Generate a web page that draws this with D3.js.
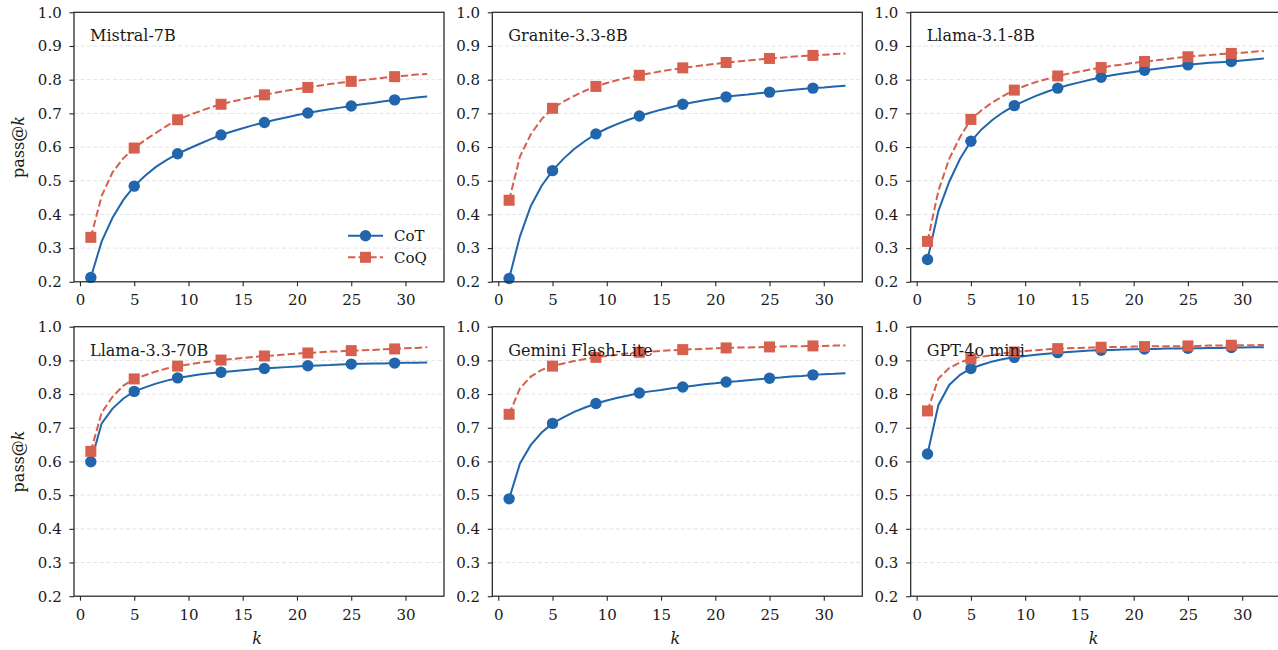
<!DOCTYPE html>
<html><head><meta charset="utf-8">
<script src="https://cdn.jsdelivr.net/npm/d3@7"></script>
<style>body{margin:0;background:#fff}svg{display:block}text{font-family:"DejaVu Serif",serif}</style>
</head><body><svg id="c" width="1278" height="650"></svg>
<script>
const ks = d3.range(1, 33);
const markerKs = [1, 5, 9, 13, 17, 21, 25, 29];
const models = ["Mistral-7B", "Granite-3.3-8B", "Llama-3.1-8B", "Llama-3.3-70B", "Gemini Flash-Lite", "GPT-4o mini"];
const seriesNames = ["CoT", "CoQ"];
const yTicks = [0.2, 0.3, 0.4, 0.5, 0.6, 0.7, 0.8, 0.9, 1.0];
const xTicks = [0, 5, 10, 15, 20, 25, 30];

const mistralCoT = [.213,.32,.39,.443,.484,.515,.541,.562,.580,.595,.609,.623,.636,.646,.656,.665,.673,.681,.688,.695,.701,.707,.712,.717,.722,.727,.731,.736,.740,.743,.747,.750];
const mistralCoQ = [.332,.455,.525,.567,.597,.621,.642,.663,.681,.694,.706,.717,.727,.735,.742,.749,.755,.761,.767,.772,.777,.782,.787,.791,.795,.799,.802,.806,.809,.812,.815,.817];
const graniteCoT = [.210,.335,.425,.485,.530,.565,.594,.618,.639,.655,.669,.681,.692,.702,.711,.719,.727,.733,.739,.744,.749,.753,.756,.760,.763,.766,.769,.772,.775,.777,.780,.782];
const graniteCoQ = [.442,.572,.638,.683,.715,.735,.752,.767,.780,.790,.799,.806,.813,.819,.825,.830,.835,.839,.843,.847,.851,.854,.857,.860,.863,.865,.868,.870,.872,.874,.876,.878];
const llama31CoT = [.266,.41,.497,.565,.617,.653,.681,.704,.723,.738,.752,.764,.775,.784,.792,.800,.807,.813,.818,.823,.828,.832,.836,.840,.844,.847,.850,.852,.854,.857,.860,.863];
const llama31CoQ = [.320,.470,.565,.630,.682,.710,.733,.752,.769,.782,.793,.802,.811,.818,.824,.830,.836,.841,.845,.850,.854,.857,.861,.865,.868,.871,.873,.876,.878,.880,.883,.885];
const llama33CoT = [.599,.713,.757,.787,.808,.820,.831,.840,.848,.853,.858,.862,.865,.868,.871,.874,.876,.878,.880,.882,.884,.885,.886,.888,.889,.890,.891,.891,.892,.893,.893,.894];
const llama33CoQ = [.630,.745,.792,.825,.845,.856,.867,.876,.883,.888,.893,.897,.901,.904,.907,.910,.913,.915,.918,.920,.922,.924,.926,.927,.929,.930,.931,.933,.934,.936,.937,.939];
const geminiCoT = [.489,.594,.649,.686,.713,.731,.747,.760,.772,.781,.789,.796,.803,.808,.812,.817,.821,.825,.829,.832,.836,.838,.841,.844,.847,.849,.852,.854,.857,.859,.860,.862];
const geminiCoQ = [.740,.817,.852,.872,.883,.891,.898,.904,.909,.913,.917,.921,.924,.926,.928,.930,.932,.933,.934,.936,.937,.938,.938,.939,.940,.941,.942,.942,.943,.943,.944,.944];
const gptCoT = [.622,.767,.827,.857,.876,.887,.897,.904,.909,.913,.917,.920,.923,.925,.927,.929,.930,.931,.932,.933,.934,.934,.935,.935,.936,.936,.937,.937,.938,.938,.939,.939];
const gptCoQ = [.750,.846,.877,.894,.905,.911,.916,.921,.925,.928,.930,.933,.935,.936,.937,.938,.939,.940,.940,.941,.941,.942,.942,.942,.943,.943,.944,.944,.945,.945,.945,.946];

const cotData = [mistralCoT, graniteCoT, llama31CoT, llama33CoT, geminiCoT, gptCoT];
const coqData = [mistralCoQ, graniteCoQ, llama31CoQ, llama33CoQ, geminiCoQ, gptCoQ];

const BLUE = "#2166ac", RED = "#d6604d", INK = "#262626";
const svg = d3.select("#c");
const W = 370, H = 269.5;
const lefts = [74, 492.3, 910.7], tops = [12.3, 326.7];

const x = d3.scaleLinear().domain([-0.55, 33.55]).range([0, W]);
const y = d3.scaleLinear().domain([0.2, 1.0]).range([H, 0]);
const line = d3.line().x((d, i) => x(ks[i])).y(d => y(d));

function drawMarkers(g, data, type, color) {
  const pts = markerKs.map(k => ({k, v: data[k - 1]}));
  if (type === "circle") {
    g.selectAll(null).data(pts).enter().append("circle")
      .attr("cx", d => x(d.k)).attr("cy", d => y(d.v)).attr("r", 5.7).attr("fill", color);
  } else {
    const s = 11;
    g.selectAll(null).data(pts).enter().append("rect")
      .attr("x", d => x(d.k) - s / 2).attr("y", d => y(d.v) - s / 2)
      .attr("width", s).attr("height", s).attr("fill", color);
  }
}

models.forEach((m, i) => {
  const col = i % 3, row = Math.floor(i / 3);
  const g = svg.append("g").attr("transform", `translate(${lefts[col]},${tops[row]})`);
  // grid
  g.selectAll(null).data(yTicks.slice(1, -1)).enter().append("line")
    .attr("x1", 0).attr("x2", W).attr("y1", d => y(d)).attr("y2", d => y(d))
    .attr("stroke", "#dcdcdc").attr("stroke-width", 0.8).attr("stroke-dasharray", "4,2.5");
  // axes
  const ax = g.append("g").attr("transform", `translate(0,${H})`)
    .call(d3.axisBottom(x).tickValues(xTicks).tickSize(4.5).tickPadding(8.5).tickFormat(d3.format("d")));
  const ay = g.append("g")
    .call(d3.axisLeft(y).tickValues(yTicks).tickSize(4.5).tickPadding(7.8).tickFormat(d3.format(".1f")));
  [ax, ay].forEach(a => {
    a.select(".domain").remove();
    a.selectAll(".tick line").attr("stroke", INK).attr("stroke-width", 1.1);
    a.selectAll(".tick text").attr("fill", "#1a1a1a").style("font-size", "15px").style("font-family", "DejaVu Serif");
  });
  // data
  const dg = g.append("g");
  dg.append("path").datum(cotData[i]).attr("d", line).attr("fill", "none")
    .attr("stroke", BLUE).attr("stroke-width", 2);
  drawMarkers(dg, cotData[i], "circle", BLUE);
  dg.append("path").datum(coqData[i]).attr("d", line).attr("fill", "none")
    .attr("stroke", RED).attr("stroke-width", 2).attr("stroke-dasharray", "7.4,3.2");
  drawMarkers(dg, coqData[i], "square", RED);
  // frame
  g.append("rect").attr("x", 0).attr("y", 0).attr("width", W).attr("height", H)
    .attr("fill", "none").attr("stroke", INK).attr("stroke-width", 1.25);
  // title
  g.append("text").attr("x", 16).attr("y", 29).text(m)
    .style("font-size", "16px").attr("fill", "#1a1a1a");
  // y label
  if (col === 0) {
    const t = g.append("text").attr("transform", `translate(${18 - lefts[0]},${H / 2}) rotate(-90)`)
      .attr("text-anchor", "middle").attr("dy", "0.35em").style("font-size", "16px").attr("fill", "#1a1a1a");
    t.append("tspan").text("pass@");
    t.append("tspan").text("k").style("font-style", "italic");
  }
  if (row === 1) {
    g.append("text").attr("x", W / 2 - 2).attr("y", 638 - tops[1]).attr("dy", "0.35em")
      .attr("text-anchor", "middle").style("font-size", "16px").style("font-style", "italic")
      .attr("fill", "#1a1a1a").text("k");
  }
  // legend
  if (i === 0) {
    const lg = g.append("g");
    const rowsY = [235.7 - tops[0], 257.3 - tops[0]];
    const lx0 = 348 - lefts[0], lx1 = 383 - lefts[0], lxm = (lx0 + lx1) / 2;
    seriesNames.forEach((s, j) => {
      const c = j === 0 ? BLUE : RED;
      const ln = lg.append("line").attr("x1", lx0).attr("x2", lx1).attr("y1", rowsY[j]).attr("y2", rowsY[j])
        .attr("stroke", c).attr("stroke-width", 2);
      if (j === 1) ln.attr("stroke-dasharray", "7.4,3.2");
      if (j === 0) lg.append("circle").attr("cx", lxm).attr("cy", rowsY[j]).attr("r", 5.7).attr("fill", c);
      else lg.append("rect").attr("x", lxm - 5.5).attr("y", rowsY[j] - 5.5).attr("width", 11).attr("height", 11).attr("fill", c);
      lg.append("text").attr("x", 394 - lefts[0]).attr("y", rowsY[j]).attr("dy", "0.35em")
        .style("font-size", "15px").attr("fill", "#1a1a1a").text(s);
    });
  }
});
</script></body></html>
